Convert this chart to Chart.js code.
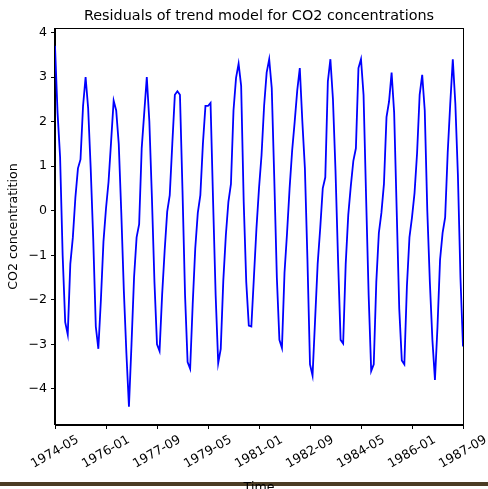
<!DOCTYPE html>
<html>
<head>
<meta charset="utf-8">
<script src="https://cdn.jsdelivr.net/npm/chart.js@4.4.1/dist/chart.umd.min.js"></script>
<style>
  html, body { margin: 0; padding: 0; background: #fff; overflow: hidden; }
</style>
</head>
<body>
<canvas id="chart" width="488" height="489"></canvas>
<script>
// monthly residuals, 1974-05 .. 1987-09
const startYear = 1974;
const startMonth = 5;
const residuals = [
  3.7, 2.2, 1.2, -1.0, -2.5, -2.78, -1.2, -0.6, 0.3, 0.95, 1.15, 2.35,
  3.0, 2.3, 0.95, -0.65, -2.6, -3.1, -2.0, -0.7, 0.05, 0.65, 1.55, 2.47,
  2.25, 1.5, -0.05, -1.8, -3.2, -4.4, -3.0, -1.5, -0.6, -0.3, 1.4, 2.2,
  3.0, 2.0, 0.3, -1.6, -3.0, -3.15, -1.9, -0.9, -0.02, 0.35, 1.5, 2.6,
  2.68, 2.6, 0.45, -1.9, -3.4, -3.55, -2.1, -0.85, -0.05, 0.35, 1.5, 2.35,
  2.35, 2.42, 0.2, -1.9, -3.42, -3.1, -1.57, -0.55, 0.2, 0.6, 2.25, 2.98,
  3.3, 2.8, 0.2, -1.6, -2.58, -2.6, -1.5, -0.4, 0.5, 1.25, 2.35, 3.1,
  3.4, 2.75, 0.7, -1.5, -2.9, -3.08, -1.4, -0.5, 0.5, 1.35, 2.0, 2.7,
  3.2, 2.0, 0.95, -1.1, -3.45, -3.7, -2.45, -1.2, -0.4, 0.5, 0.75, 2.9,
  3.4, 2.5, 0.9, -1.1, -2.9, -2.98, -1.2, -0.1, 0.55, 1.12, 1.4, 3.2,
  3.4, 2.6, 0.3, -1.9, -3.6, -3.45, -1.6, -0.5, -0.05, 0.6, 2.1, 2.45,
  3.1, 2.2, 0.0, -2.2, -3.36, -3.45, -1.7, -0.6, -0.15, 0.4, 1.3, 2.6,
  3.05, 2.25, 0.0, -1.6, -2.9, -3.8, -2.6, -1.1, -0.5, -0.15, 1.3, 2.4,
  3.4, 2.4, 0.8, -1.5, -3.05
];
const tickLabels = ["1974-05", "1976-01", "1977-09", "1979-05", "1981-01",
                    "1982-09", "1984-05", "1986-01", "1987-09"];
const tickIndex = [0, 20, 40, 60, 80, 100, 120, 140, 160];
const yTicks = [-4, -3, -2, -1, 0, 1, 2, 3, 4];

// month strings for each point
const months = residuals.map((v, i) => {
  const m = startMonth - 1 + i;
  const y = startYear + Math.floor(m / 12);
  return y + "-" + String(m % 12 + 1).padStart(2, "0");
});

const FONT = "'DejaVu Sans', sans-serif";

// draws spines, title, axis titles and the rotated x labels (centered like matplotlib)
const mplDecor = {
  id: "mplDecor",
  afterDraw(chart) {
    const ctx = chart.ctx;
    const a = chart.chartArea;
    const xs = chart.scales.x;
    ctx.save();
    ctx.strokeStyle = "#000";
    ctx.lineWidth = 1;
    ctx.strokeRect(Math.round(a.left) - 0.5, Math.round(a.top) + 0.5,
                   Math.round(a.right - a.left) + 1, Math.round(a.bottom - a.top) - 1);

    ctx.fillStyle = "#000";
    ctx.font = "14.4px " + FONT;
    ctx.textAlign = "center";
    ctx.textBaseline = "alphabetic";
    ctx.fillText("Residuals of trend model for CO2 concentrations", (a.left + a.right) / 2, 20);

    ctx.font = "12.6px " + FONT;
    ctx.textBaseline = "middle";
    tickIndex.forEach((t, i) => {
      const px = xs.getPixelForValue(t);
      ctx.save();
      ctx.translate(px, a.bottom + 27);
      ctx.rotate(-Math.PI / 6);
      ctx.fillText(tickLabels[i], 0, 0);
      ctx.restore();
    });

    ctx.save();
    ctx.translate(14, (a.top + a.bottom) / 2);
    ctx.rotate(-Math.PI / 2);
    ctx.fillText("CO2 concentratition", 0, 0);
    ctx.restore();

    ctx.fillStyle = "#4b3c24";
    ctx.fillRect(0, 482, chart.width, 4);
    ctx.fillStyle = "#000";
    ctx.fillText("Time", (a.left + a.right) / 2, 488);
    ctx.restore();
  }
};

new Chart(document.getElementById("chart"), {
  type: "line",
  data: {
    labels: months,
    datasets: [{
      data: residuals.map((v, i) => ({ x: i, y: v })),
      borderColor: "#0000ff",
      borderWidth: 1.8,
      pointRadius: 0,
      tension: 0,
      fill: false
    }]
  },
  options: {
    responsive: false,
    animation: false,
    devicePixelRatio: 1,
    layout: { padding: { top: 28, right: 25, left: 0, bottom: 0 } },
    plugins: { legend: { display: false }, title: { display: false }, tooltip: { enabled: false } },
    scales: {
      x: {
        type: "linear",
        min: 0,
        max: 160,
        afterBuildTicks: s => { s.ticks = tickIndex.map(v => ({ value: v })); },
        afterFit: s => { s.height = 64; },
        ticks: { color: "rgba(0,0,0,0)", maxRotation: 0, autoSkip: false, font: { family: FONT, size: 12.6 } },
        grid: { drawOnChartArea: false, drawTicks: true, tickLength: 4, tickColor: "#000" },
        border: { display: true, color: "#000", width: 1 }
      },
      y: {
        min: -4.81,
        max: 4.1,
        afterBuildTicks: s => { s.ticks = yTicks.map(v => ({ value: v })); },
        afterFit: s => { s.width = 55; },
        ticks: {
          color: "#000",
          padding: 4,
          font: { family: FONT, size: 12.6 },
          callback: v => v < 0 ? "\u2212" + Math.abs(v) : String(v)
        },
        grid: { drawOnChartArea: false, drawTicks: true, tickLength: 4, tickColor: "#000" },
        border: { display: true, color: "#000", width: 1 }
      }
    }
  },
  plugins: [mplDecor]
});
</script>
</body>
</html>
